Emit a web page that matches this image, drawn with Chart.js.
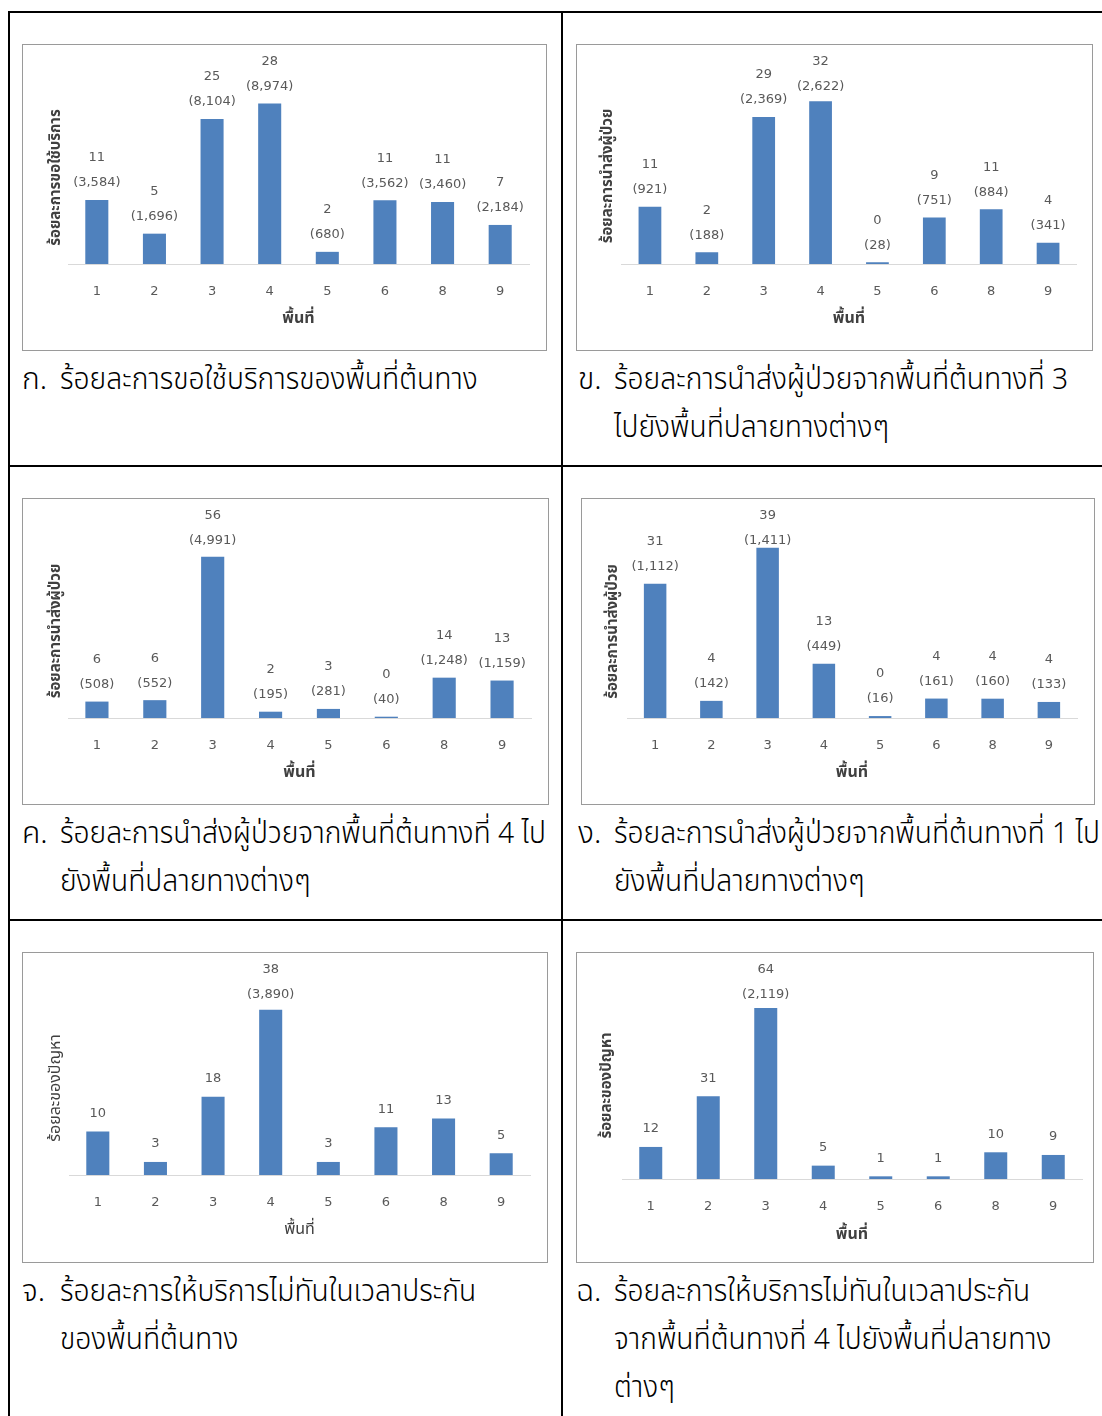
<!DOCTYPE html>
<html lang="th">
<head>
<meta charset="utf-8">
<title>ร้อยละการขอใช้บริการและการนำส่งผู้ป่วยตามพื้นที่</title>
<script src="https://cdn.jsdelivr.net/npm/chart.js@4.4.1/dist/chart.umd.min.js"></script>
<style>
  html, body { margin: 0; padding: 0; background: #fff; }
  #page { position: relative; width: 1102px; height: 1416px; overflow: hidden;
          font-family: "Noto Sans Thai", "Noto Sans Thai UI", "Noto Sans", "DejaVu Sans", sans-serif; }
  .rule { position: absolute; background: #000; }
  .box { position: absolute; border: 1px solid #9a9a9a; box-sizing: border-box; background: #fff; }
  .box canvas { position: absolute; left: 0; top: 0; }
  .cap { position: absolute; font-size: 30px; font-weight: 300; line-height: 48px; color: #000; white-space: nowrap; }
  .cap .mk { position: absolute; left: 0; top: 0; }
  .cap .tx { position: absolute; top: 0; transform: scaleX(0.94); transform-origin: 0 0; }
</style>
</head>
<body>
<div id="page"></div>
<script>
// ---- data -----------------------------------------------------------
const areaLabels = ['1', '2', '3', '4', '5', '6', '8', '9'];

// number of service requests by origin area
const requestCounts = [3584, 1696, 8104, 8974, 680, 3562, 3460, 2184];
// patients transferred from origin area 3 to each destination area
const fromArea3Counts = [921, 188, 2369, 2622, 28, 751, 884, 341];
// patients transferred from origin area 4 to each destination area
const fromArea4Counts = [508, 552, 4991, 195, 281, 40, 1248, 1159];
// patients transferred from origin area 1 to each destination area
const fromArea1Counts = [1112, 142, 1411, 449, 16, 161, 160, 133];

// percent of late services (beyond guaranteed time) by origin area
const latePctByOrigin = [10, 3, 18, 38, 3, 11, 13, 5];
const lateCountByOrigin = [null, null, null, 3890, null, null, null, null];
// percent of late services from origin area 4, by destination area
const latePctFromArea4 = [12, 31, 64, 5, 1, 1, 10, 9];
const lateCountFromArea4 = [null, null, 2119, null, null, null, null, null];

// ---- helpers ------------------------------------------------------------
const THAI = '"Noto Sans Thai", "Noto Sans Thai UI", "Noto Sans", "DejaVu Sans", sans-serif';
const NUM = '"DejaVu Sans", sans-serif';

function sharePct(counts) {
  const total = counts.reduce((a, b) => a + b, 0);
  return counts.map(c => c / total * 100);
}
function fmtCount(c) { return '(' + c.toLocaleString('en-US') + ')'; }

// percentage and count labels above each bar
const barLabels = {
  id: 'barLabels',
  afterDatasetsDraw(chart, args, opts) {
    const ctx = chart.ctx;
    const meta = chart.getDatasetMeta(0);
    const values = chart.data.datasets[0].data;
    ctx.save();
    ctx.font = '13px ' + NUM;
    ctx.fillStyle = '#595959';
    ctx.textAlign = 'center';
    ctx.textBaseline = 'middle';
    meta.data.forEach((bar, i) => {
      const pct = String(Math.round(values[i]));
      const cnt = opts.counts ? opts.counts[i] : null;
      if (cnt != null) {
        const y1 = Math.max(bar.y - 42, 17);
        ctx.fillText(pct, bar.x, y1);
        ctx.fillText(fmtCount(cnt), bar.x, y1 + 25);
      } else {
        ctx.fillText(pct, bar.x, bar.y - 18);
      }
    });
    ctx.restore();
  }
};

// ---- panels -------------------------------------------------------------
const panels = [
  { values: sharePct(requestCounts), counts: requestCounts, yTitle: 'ร้อยละการขอใช้บริการ', yMax: 30, bold: true,
    box: [22, 44, 525, 307], plotL: 68, plotR: 529, plotT: 91, base: 264, tickY: 292, titleY: 320, yTitleX: 57,
    cap: { x: 22, tx: 60, y: 356, mark: 'ก.', lines: ['ร้อยละการขอใช้บริการของพื้นที่ต้นทาง'] } },
  { values: sharePct(fromArea3Counts), counts: fromArea3Counts, yTitle: 'ร้อยละการนำส่งผู้ป่วย', yMax: 35, bold: true,
    box: [576, 44, 517, 307], plotL: 621.5, plotR: 1076.5, plotT: 88, base: 264, tickY: 292, titleY: 320, yTitleX: 609,
    cap: { x: 578, tx: 614, y: 356, mark: 'ข.', lines: ['ร้อยละการนำส่งผู้ป่วยจากพื้นที่ต้นทางที่ 3', 'ไปยังพื้นที่ปลายทางต่างๆ'] } },
  { values: sharePct(fromArea4Counts), counts: fromArea4Counts, yTitle: 'ร้อยละการนำส่งผู้ป่วย', yMax: 60, bold: true,
    box: [22, 498, 527, 307], plotL: 68, plotR: 531, plotT: 544, base: 718, tickY: 746, titleY: 774, yTitleX: 57,
    cap: { x: 22, tx: 60, y: 810, mark: 'ค.', lines: ['ร้อยละการนำส่งผู้ป่วยจากพื้นที่ต้นทางที่ 4 ไป', 'ยังพื้นที่ปลายทางต่างๆ'] } },
  { values: sharePct(fromArea1Counts), counts: fromArea1Counts, yTitle: 'ร้อยละการนำส่งผู้ป่วย', yMax: 40, bold: true,
    box: [581, 498, 514, 307], plotL: 627, plotR: 1077, plotT: 545, base: 718, tickY: 746, titleY: 774, yTitleX: 614,
    cap: { x: 578, tx: 614, y: 810, mark: 'ง.', lines: ['ร้อยละการนำส่งผู้ป่วยจากพื้นที่ต้นทางที่ 1 ไป', 'ยังพื้นที่ปลายทางต่างๆ'] } },
  { values: latePctByOrigin, counts: lateCountByOrigin, yTitle: 'ร้อยละของปัญหา', yMax: 40, bold: false,
    box: [22, 952, 526, 311], plotL: 69, plotR: 530, plotT: 1001, base: 1175, tickY: 1203, titleY: 1231, yTitleX: 57,
    cap: { x: 22, tx: 60, y: 1268, mark: 'จ.', lines: ['ร้อยละการให้บริการไม่ทันในเวลาประกัน', 'ของพื้นที่ต้นทาง'] } },
  { values: latePctFromArea4, counts: lateCountFromArea4, yTitle: 'ร้อยละของปัญหา', yMax: 70, bold: true,
    box: [576, 952, 518, 311], plotL: 622, plotR: 1082, plotT: 992, base: 1179, tickY: 1207, titleY: 1236, yTitleX: 608,
    cap: { x: 576, tx: 614, y: 1268, mark: 'ฉ.', lines: ['ร้อยละการให้บริการไม่ทันในเวลาประกัน', 'จากพื้นที่ต้นทางที่ 4 ไปยังพื้นที่ปลายทาง', 'ต่างๆ'] } }
];

const page = document.getElementById('page');

// table rules
[[8, 11, 1094, 2], [8, 11, 2, 1405], [561, 11, 2, 1405], [8, 465, 1094, 2], [8, 919, 1094, 2]]
  .forEach(([l, t, w, h]) => {
    const d = document.createElement('div');
    d.className = 'rule';
    Object.assign(d.style, { left: l + 'px', top: t + 'px', width: w + 'px', height: h + 'px' });
    page.appendChild(d);
  });

const TICK_SIZE = 13, TITLE_SIZE = 16, LH = 1.2;

panels.forEach(p => {
  const [bx, by, bw, bh] = p.box;
  const box = document.createElement('div');
  box.className = 'box';
  Object.assign(box.style, { left: bx + 'px', top: by + 'px', width: bw + 'px', height: bh + 'px' });
  const canvas = document.createElement('canvas');
  const cw = bw - 2, ch = bh - 2;
  canvas.width = cw; canvas.height = ch;
  canvas.style.width = cw + 'px'; canvas.style.height = ch + 'px';
  box.appendChild(canvas);
  page.appendChild(box);

  // canvas-relative geometry
  const ox = bx + 1, oy = by + 1;
  const yTitleSize = p.bold ? 15 : 16;
  const plotL = p.plotL - ox, plotR = p.plotR - ox, plotT = p.plotT - oy, base = p.base - oy;
  const tickLH = TICK_SIZE * LH, titleLH = TITLE_SIZE * LH, yTitleLH = yTitleSize * LH;
  const tickPad = (p.tickY - oy) - base - tickLH / 2;
  const scaleBottom = (p.titleY - oy) + titleLH / 2;
  const xAxisH = scaleBottom - base;
  const padLeft = (p.yTitleX - ox) - yTitleLH / 2 - 4;
  const yAxisW = plotL - padLeft;

  new Chart(canvas, {
    type: 'bar',
    data: {
      labels: areaLabels,
      datasets: [{
        data: p.values,
        backgroundColor: '#4f81bd',
        borderWidth: 0,
        categoryPercentage: 0.4,
        barPercentage: 1
      }]
    },
    options: {
      responsive: false,
      animation: false,
      devicePixelRatio: 1,
      layout: { padding: { left: padLeft, right: cw - plotR, top: plotT, bottom: ch - scaleBottom } },
      plugins: {
        legend: { display: false },
        tooltip: { enabled: false },
        barLabels: { counts: p.counts }
      },
      scales: {
        x: {
          afterFit: s => { s.height = xAxisH; },
          grid: { display: false, drawTicks: false },
          border: { display: true, color: '#d9d9d9', width: 1 },
          ticks: { color: '#595959', font: { family: NUM, size: TICK_SIZE, lineHeight: LH },
                   padding: tickPad, maxRotation: 0, autoSkip: false },
          title: { display: true, text: 'พื้นที่', color: '#404040',
                   font: { family: THAI, size: TITLE_SIZE, weight: p.bold ? 'bold' : 'normal', lineHeight: LH },
                   padding: { top: 0, bottom: 0 } }
        },
        y: {
          afterFit: s => { s.width = yAxisW; },
          min: 0, max: p.yMax,
          grid: { display: false, drawTicks: false },
          border: { display: false },
          ticks: { display: false },
          title: { display: true, text: p.yTitle, color: '#404040',
                   font: { family: THAI, size: yTitleSize, weight: p.bold ? 'bold' : 'normal', lineHeight: LH },
                   padding: { top: 4, bottom: 0 } }
        }
      }
    },
    plugins: [barLabels]
  });

  // caption below the chart
  const cap = document.createElement('div');
  cap.className = 'cap';
  Object.assign(cap.style, { left: p.cap.x + 'px', top: p.cap.y + 'px', width: (1090 - p.cap.x) + 'px',
                             height: (p.cap.lines.length * 48) + 'px' });
  const mk = document.createElement('span');
  mk.className = 'mk';
  mk.textContent = p.cap.mark;
  const tx = document.createElement('span');
  tx.className = 'tx';
  tx.style.left = (p.cap.tx - p.cap.x) + 'px';
  tx.innerHTML = p.cap.lines.map(s => s.replace(/&/g, '&amp;').replace(/</g, '&lt;')).join('<br>');
  cap.appendChild(mk);
  cap.appendChild(tx);
  page.appendChild(cap);
});
</script>
</body>
</html>
